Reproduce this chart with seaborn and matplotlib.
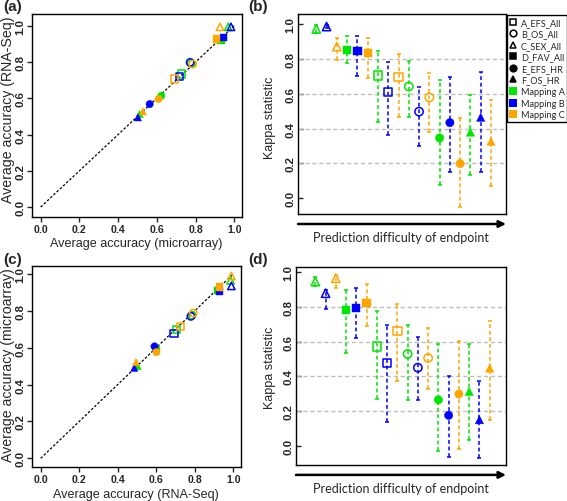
import numpy as np
import pandas as pd
import seaborn as sns
import matplotlib.pyplot as plt
from matplotlib.lines import Line2D

# endpoints in order of prediction difficulty, 3 mappings each
endpoints = ['C_SEX_All', 'D_FAV_All', 'A_EFS_All', 'B_OS_All', 'E_EFS_HR', 'F_OS_HR']
mappings = ['Mapping A', 'Mapping B', 'Mapping C']

# (a) average accuracy, microarray (x) vs RNA-Seq (y)
acc_a_micro = [0.969, 0.983, 0.926, 0.931, 0.943, 0.909, 0.729, 0.717, 0.691,
               0.778, 0.772, 0.785, 0.623, 0.563, 0.609, 0.511, 0.502, 0.528]
acc_a_rna = [0.994, 0.994, 0.994, 0.921, 0.936, 0.927, 0.734, 0.719, 0.706,
             0.793, 0.798, 0.789, 0.614, 0.568, 0.596, 0.513, 0.495, 0.528]

# (c) average accuracy, RNA-Seq (x) vs microarray (y)
acc_c_rna = [0.986, 0.990, 0.990, 0.918, 0.928, 0.928, 0.706, 0.692, 0.727,
             0.786, 0.780, 0.792, 0.601, 0.591, 0.601, 0.503, 0.486, 0.495]
acc_c_micro = [0.965, 0.935, 0.989, 0.911, 0.905, 0.929, 0.697, 0.676, 0.715,
               0.776, 0.770, 0.788, 0.594, 0.607, 0.576, 0.500, 0.491, 0.522]

# (b) kappa statistic with intervals
kappa_b = [0.971, 0.985, 0.870, 0.851, 0.845, 0.834, 0.704, 0.608, 0.694,
           0.641, 0.497, 0.579, 0.346, 0.434, 0.199, 0.380, 0.465, 0.327]
kappa_b_lo = [0.948, 0.975, 0.793, 0.774, 0.702, 0.688, 0.436, 0.363, 0.465,
              0.468, 0.298, 0.379, 0.076, 0.149, -0.052, 0.136, 0.149, 0.069]
kappa_b_hi = [0.994, 0.995, 0.918, 0.929, 0.929, 0.922, 0.843, 0.784, 0.826,
              0.788, 0.641, 0.719, 0.677, 0.694, 0.463, 0.595, 0.725, 0.566]

# (d) kappa statistic with intervals
kappa_d = [0.946, 0.879, 0.965, 0.783, 0.794, 0.821, 0.571, 0.475, 0.662,
           0.529, 0.450, 0.506, 0.265, 0.175, 0.298, 0.313, 0.150, 0.448]
kappa_d_lo = [0.920, 0.788, 0.908, 0.537, 0.619, 0.692, 0.271, 0.135, 0.371,
              0.263, 0.263, 0.327, -0.031, -0.065, -0.019, 0.033, -0.071, 0.150]
kappa_d_hi = [0.970, 0.900, 0.985, 0.896, 0.910, 0.931, 0.775, 0.694, 0.817,
              0.694, 0.625, 0.677, 0.587, 0.402, 0.602, 0.585, 0.375, 0.721]

legend_order = ['A_EFS_All', 'B_OS_All', 'C_SEX_All', 'D_FAV_All', 'E_EFS_HR', 'F_OS_HR']

palette = {'Mapping A': '#00E600', 'Mapping B': '#0000FF', 'Mapping C': '#FFA500'}
marker_map = {'A_EFS_All': ('s', False), 'B_OS_All': ('o', False), 'C_SEX_All': ('^', False),
              'D_FAV_All': ('s', True), 'E_EFS_HR': ('o', True), 'F_OS_HR': ('^', True)}

sns.set_style('ticks')
plt.rcParams['font.family'] = ['Liberation Sans', 'DejaVu Sans']
plt.rcParams['axes.edgecolor'] = 'black'
plt.rcParams['axes.linewidth'] = 1.0

W, H = 567, 502
fig = plt.figure(figsize=(5.67, 5.02), dpi=100)


def add_ax(l, t, r, b):
    return fig.add_axes([l / W, 1 - b / H, (r - l) / W, (b - t) / H])


def draw_points(ax, xs, ys, size=28):
    df = pd.DataFrame({'x': xs, 'y': ys,
                       'endpoint': np.repeat(endpoints, 3),
                       'mapping': mappings * len(endpoints)})
    for ep in endpoints:
        m, filled = marker_map[ep]
        sub = df[df['endpoint'] == ep]
        sns.scatterplot(data=sub, x='x', y='y', hue='mapping', palette=palette,
                        marker=m, s=size, ax=ax, legend=False, zorder=3)
        coll = ax.collections[-1]
        fc = coll.get_facecolors()
        coll.set_edgecolors(fc)
        if filled:
            coll.set_linewidth(0.3)
        else:
            coll.set_facecolors('none')
            coll.set_linewidth(1.1)


def style_ticks(ax, rot_size=8.2):
    ticks = [0.0, 0.2, 0.4, 0.6, 0.8, 1.0]
    ax.set_yticks(ticks)
    ax.set_yticklabels([f'{t:.1f}' for t in ticks], rotation=90, va='center',
                       fontsize=rot_size, fontweight='bold')
    ax.set_xlabel('')
    ax.set_ylabel('')


def accuracy_panel(ax, xs, ys, ylim):
    ax.plot([0, 1], [0, 1], color='black', lw=0.9, ls=(0, (2, 1.5)), zorder=2)
    draw_points(ax, xs, ys)
    ax.set_xlim(-0.045, 1.04)
    ax.set_ylim(*ylim)
    ticks = [0.0, 0.2, 0.4, 0.6, 0.8, 1.0]
    ax.set_xticks(ticks)
    ax.set_xticklabels([f'{t:.1f}' for t in ticks], fontsize=7.6, fontweight='bold')
    style_ticks(ax)
    ax.tick_params(direction='out', length=3.5, width=1, pad=1.5)


def kappa_panel(ax, vals, lo, hi, xlim, ylim):
    pos = np.arange(1, len(vals) + 1)
    for g in [0.2, 0.4, 0.6, 0.8]:
        ax.axhline(g, color='#BEBEBE', lw=1.0, ls=(0, (3, 2)), zorder=1)
    cols = [palette[m] for m in mappings * len(endpoints)]
    for x, v, l, h, c in zip(pos, vals, lo, hi, cols):
        eb = ax.errorbar(x, v, yerr=[[v - l], [h - v]], fmt='none', ecolor=c,
                         elinewidth=1.1, capsize=1.6, capthick=1.1, zorder=2)
        eb[2][0].set_linestyle((0, (2.5, 1.8)))
    draw_points(ax, pos, vals, size=36)
    ax.set_xlim(*xlim)
    ax.set_ylim(*ylim)
    ax.set_xticks([])
    style_ticks(ax)
    ax.tick_params(axis='y', direction='in', length=3.5, width=1, pad=2)
    ax.annotate('', xy=(1.0, -0.05), xytext=(0.0, -0.05), xycoords='axes fraction',
                annotation_clip=False,
                arrowprops=dict(arrowstyle='-|>', lw=1.8, color='black',
                                mutation_scale=10, shrinkA=0, shrinkB=0))


ax_a = add_ax(32, 15, 242, 218)
ax_b = add_ax(298, 15, 506, 215)
ax_c = add_ax(32, 267, 241, 468)
ax_d = add_ax(296, 268, 506, 466)

accuracy_panel(ax_a, acc_a_micro, acc_a_rna, (-0.055, 1.065))
accuracy_panel(ax_c, acc_c_rna, acc_c_micro, (-0.047, 1.043))
kappa_panel(ax_b, kappa_b, kappa_b_lo, kappa_b_hi, (-0.78, 19.46), (-0.09, 1.057))
kappa_panel(ax_d, kappa_d, kappa_d_lo, kappa_d_hi, (-0.88, 19.59), (-0.111, 1.03))

# axis titles
fig.text(8 / W, 1 - 110 / H, 'Average accuracy (RNA-Seq)', rotation=90,
         ha='center', va='center', fontsize=10.2)
fig.text(136 / W, 1 - 244 / H, 'Average accuracy (microarray)',
         ha='center', va='center', fontsize=9.1)
fig.text(8 / W, 1 - 365 / H, 'Average accuracy (microarray)', rotation=90,
         ha='center', va='center', fontsize=10.2)
fig.text(136 / W, 1 - 495 / H, 'Average accuracy (RNA-Seq)',
         ha='center', va='center', fontsize=9.1)
for yc in [118, 368]:
    fig.text(270 / W, 1 - yc / H, 'Kappa statistic', rotation=90,
             ha='center', va='center', fontsize=9)
for yc in [238, 489]:
    fig.text(401 / W, 1 - yc / H, 'Prediction difficulty of endpoint',
             ha='center', va='center', fontsize=9.0, family=['Lato', 'DejaVu Sans'])

# panel letters
for lab, x, y in [('(a)', 13, 7), ('(b)', 258, 7), ('(c)', 13, 260), ('(d)', 258, 260)]:
    fig.text(x / W, 1 - y / H, lab, ha='center', va='center', fontsize=11, fontweight='bold')

# legend
handles = []
for ep in legend_order:
    m, filled = marker_map[ep]
    handles.append(Line2D([], [], ls='none', marker=m, ms=4.8, mew=1.1, mec='black',
                          mfc='black' if filled else 'none', label=ep))
for mp in mappings:
    handles.append(Line2D([], [], ls='none', marker='s', ms=5.5, mew=0,
                          mfc=palette[mp], label=mp))
leg = fig.legend(handles=handles, loc='upper left', bbox_to_anchor=(507 / W, 1 - 16 / H),
                 borderaxespad=0, frameon=True, fancybox=False, edgecolor='black',
                 framealpha=1, handlelength=0.7, handletextpad=0.5,
                 labelspacing=0.28, borderpad=0.3,
                 prop={'family': 'Lato', 'size': 6.6})
leg.get_frame().set_linewidth(1.0)

fig.savefig('out.png', dpi=100)
